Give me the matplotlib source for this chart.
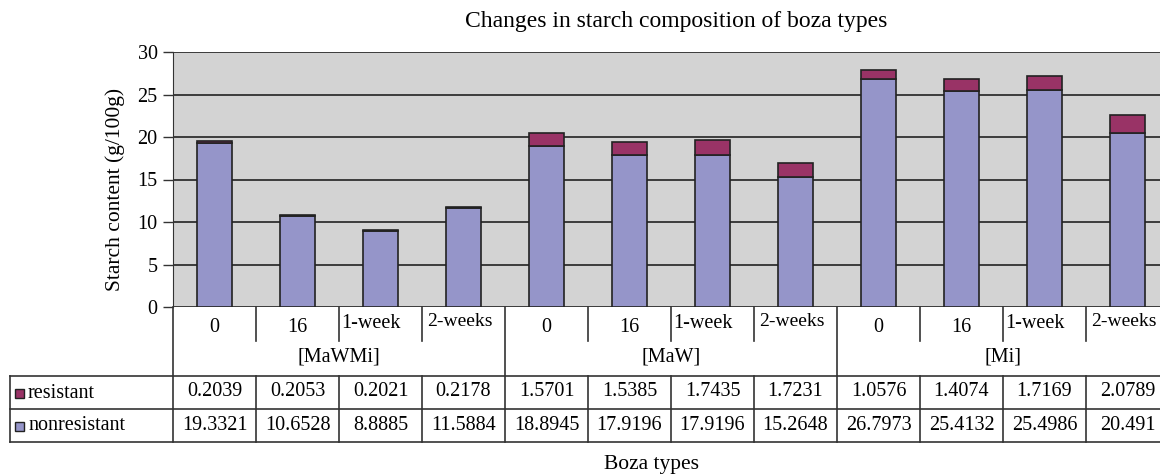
import matplotlib
matplotlib.use("Agg")
import matplotlib.pyplot as plt
from matplotlib.transforms import blended_transform_factory
from matplotlib.lines import Line2D
from matplotlib.patches import Rectangle

plt.rcParams['font.family'] = ['Liberation Serif', 'DejaVu Serif']

# data
grupos = ['[MaWMi]', '[MaW]', '[Mi]']
tiempos = ['0', '16', '1-week', '2-weeks']
resistant = [0.2039, 0.2053, 0.2021, 0.2178,
             1.5701, 1.5385, 1.7435, 1.7231,
             1.0576, 1.4074, 1.7169, 2.0789]
nonresistant = [19.3321, 10.6528, 8.8885, 11.5884,
                18.8945, 17.9196, 17.9196, 15.2648,
                26.7973, 25.4132, 25.4986, 20.491]
res_txt = ['0.2039', '0.2053', '0.2021', '0.2178', '1.5701', '1.5385',
           '1.7435', '1.7231', '1.0576', '1.4074', '1.7169', '2.0789']
non_txt = ['19.3321', '10.6528', '8.8885', '11.5884', '18.8945', '17.9196',
           '17.9196', '15.2648', '26.7973', '25.4132', '25.4986', '20.491']

col_non = '#9595C9'
col_res = '#993366'
fs = 14.5

W, H = 1160, 474
fig = plt.figure(figsize=(W / 100, H / 100), dpi=100)

def fy(py):
    return 1 - py / H

def fx(px):
    return px / W

left, right, top, bottom = 173, 1169, 52, 307
ax = fig.add_axes([fx(left), fy(bottom), fx(right) - fx(left), fy(top) - fy(bottom)])
ax.set_facecolor('#D3D3D3')

n = len(nonresistant)
x = list(range(n))
ancho = 0.41
ax.bar(x, nonresistant, ancho, color=col_non, edgecolor='#222222', linewidth=1.2, zorder=3)
ax.bar(x, resistant, ancho, bottom=nonresistant, color=col_res, edgecolor='#222222',
       linewidth=1.2, zorder=3)

ax.set_xlim(-0.5, n - 0.5)
ax.set_ylim(0, 30)
ax.set_yticks(range(0, 31, 5))
ax.yaxis.grid(True, color='#222222', linewidth=1.2)
ax.set_axisbelow(True)
ax.set_xticks([])
ax.tick_params(axis='y', labelsize=fs, length=7, width=1, color='#333333', pad=4)
for s in ['top', 'right', 'bottom']:
    ax.spines[s].set_visible(False)
ax.spines['left'].set_color('#333333')

fig.text(fx(115), fy(189), 'Starch content (g/100g)', fontsize=15.5, rotation=90,
         ha='center', va='center')
fig.text(fx(676), fy(21), 'Changes in starch composition of boza types',
         fontsize=17, ha='center', va='center')
fig.text(fx(651), fy(464), 'Boza types', fontsize=15.5, ha='center', va='center')

# tabla de datos
tr = blended_transform_factory(ax.transData, fig.transFigure)
lc = '#333333'

def hline(px0, px1, py):
    fig.add_artist(Line2D([fx(px0), fx(px1)], [fy(py), fy(py)], color=lc, lw=1.2))

hline(10, right, 376)
hline(10, right, 409)
hline(10, right, 442)
fig.add_artist(Line2D([fx(10), fx(10)], [fy(376), fy(442)], color=lc, lw=1.2))
fig.add_artist(Line2D([fx(left), fx(left)], [fy(bottom), fy(442)], color=lc, lw=1.2))

for i in range(1, n):
    xb = i - 0.5
    if i % 4 == 0:
        fig.add_artist(Line2D([xb, xb], [fy(bottom), fy(442)], color=lc, lw=1.2, transform=tr))
    else:
        fig.add_artist(Line2D([xb, xb], [fy(bottom), fy(341)], color=lc, lw=1.2, transform=tr))
        fig.add_artist(Line2D([xb, xb], [fy(376), fy(442)], color=lc, lw=1.2, transform=tr))

for i in range(n):
    t = tiempos[i % 4]
    if t == '1-week':
        fig.text(i - 0.47, fy(324), t, transform=tr, fontsize=fs, ha='left', va='center')
    elif t == '2-weeks':
        fig.text(i - 0.04, fy(322), t, transform=tr, fontsize=14, ha='center', va='center')
    else:
        fig.text(i, fy(327), t, transform=tr, fontsize=fs, ha='center', va='center')
    fig.text(i, fy(392), res_txt[i], transform=tr, fontsize=fs, ha='center', va='center')
    fig.text(i, fy(425), non_txt[i], transform=tr, fontsize=fs, ha='center', va='center')

for g, nombre in enumerate(grupos):
    fig.text(g * 4 + 1.5, fy(357), nombre, transform=tr, fontsize=fs, ha='center', va='center')

for py, nombre, c in [(393, 'resistant', col_res), (426, 'nonresistant', col_non)]:
    fig.add_artist(Rectangle((fx(15), fy(py + 5)), fx(9), 9 / H, facecolor=c,
                             edgecolor='#222222', lw=1))
    fig.text(fx(28), fy(py), nombre, fontsize=fs, ha='left', va='center')

fig.savefig('out.png', dpi=100)
